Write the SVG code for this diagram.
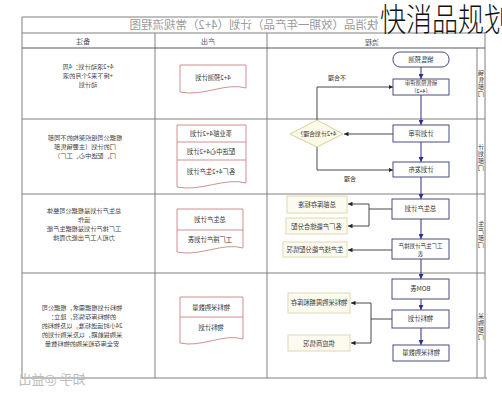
<svg xmlns="http://www.w3.org/2000/svg" width="502" height="400" viewBox="0 0 502 400">
<style>
.tb{fill:none;stroke:#808080;stroke-width:1}
.tk{fill:none;stroke:#5a5a5a;stroke-width:1.2}
.fb{fill:#fff;stroke:#4b4b7d;stroke-width:1}
.sb{fill:#fdfbef;stroke:#e0d7b2;stroke-width:1}
.dg{fill:#fdfbe8;stroke:#d9cf9a;stroke-width:1}
.doc{fill:#fff;stroke:#c98585;stroke-width:0.9}
.t{font-family:"Noto Sans CJK SC","Noto Sans",sans-serif;font-size:6.3px;fill:#333;text-anchor:middle}
.r{font-size:6.2px;fill:#444}
.h{font-size:7px;fill:#555}
.v{font-size:6px;letter-spacing:1px;writing-mode:vertical-rl}
.c1{fill:none;stroke:#30308a;stroke-width:1}
.c2{fill:none;stroke:#333;stroke-width:0.9}
</style>
<defs>
<marker id="an" viewBox="0 0 10 10" refX="10" refY="5" markerWidth="5" markerHeight="5" markerUnits="userSpaceOnUse" orient="auto"><path d="M0,0 L10,5 L0,10 z" fill="#2f2f8a"/></marker>
<marker id="ak" viewBox="0 0 10 10" refX="10" refY="5" markerWidth="4.5" markerHeight="4.5" markerUnits="userSpaceOnUse" orient="auto"><path d="M0,0 L10,5 L0,10 z" fill="#222"/></marker>
</defs>
<rect width="502" height="400" fill="#fff"/>

<g id="table">
<path class="tb" d="M22,17 H485 M22,33 H485 M22,17 V378 M485,17 V378 M22,119 H485 M22,194 H485 M22,273 H485 M22,378 H487 M155,33 V378 M267,33 V378 M477,48 V378"/>
<path class="tk" d="M22,48 H485"/>
<text class="t" transform="scale(-1,1)" x="-254" y="29" style="font-size:11.5px;fill:#9a9a9a">快消品（效期一年产品）计划（4+2）常规流程图</text>
<text class="t h" transform="scale(-1,1)" x="-83" y="44">备注</text>
<text class="t h" transform="scale(-1,1)" x="-208" y="44">产出</text>
<text class="t h" transform="scale(-1,1)" x="-372" y="44.5">流程</text>
</g>

<g id="lanes">
<text class="t v" transform="scale(-1,1)" x="-481" y="84">销售部门</text>
<text class="t v" transform="scale(-1,1)" x="-481" y="158">计划部门</text>
<text class="t v" transform="scale(-1,1)" x="-481" y="235">生产部门</text>
<text class="t v" transform="scale(-1,1)" x="-481" y="327">采购部门</text>
</g>

<g id="remarks" class="t r">
<text transform="scale(-1,1)" x="-88" y="68.7">4+2滚动计划：4周</text>
<text transform="scale(-1,1)" x="-88" y="77.7">+接下来2个月的滚</text>
<text transform="scale(-1,1)" x="-88" y="86.7">动计划</text>
<text transform="scale(-1,1)" x="-85" y="140.2">根据公司组织架构的不同部</text>
<text transform="scale(-1,1)" x="-85" y="149.2">门的计划（主要销售部</text>
<text transform="scale(-1,1)" x="-85" y="158.2">门、配送中心、工厂）</text>
<text transform="scale(-1,1)" x="-84" y="212.7">总生产计划是根据公司整体</text>
<text transform="scale(-1,1)" x="-84" y="221.7">运作</text>
<text transform="scale(-1,1)" x="-84" y="230.7">工厂排产计划是根据生产能</text>
<text transform="scale(-1,1)" x="-84" y="239.7">力和人工产出能力而排</text>
<text transform="scale(-1,1)" x="-82" y="309.7">物料计划根据需求，根据公司</text>
<text transform="scale(-1,1)" x="-82" y="318.7">的物料库存情况，建立：</text>
<text transform="scale(-1,1)" x="-82" y="327.7">24小时运送标准，以及物料的</text>
<text transform="scale(-1,1)" x="-82" y="336.7">采购提前期，以及采购计划的</text>
<text transform="scale(-1,1)" x="-82" y="345.7">安全库存和采购的物料数量</text>
</g>

<g id="out1">
<path class="doc" d="M180,65 H246 V88 C226,82 203,97 180,92 Z"/>
<text class="t" transform="scale(-1,1)" x="-213" y="80">4+2预测计划</text>
</g>
<g id="out2">
<path class="doc" d="M177,125 H246 V183 C225,177 201,192 177,187 Z M177,142 H246 M177,160 H246"/>
<text class="t" transform="scale(-1,1)" x="-211" y="136">事业部4+2计划</text>
<text class="t" transform="scale(-1,1)" x="-211" y="153.5">配送中心4+2计划</text>
<text class="t" transform="scale(-1,1)" x="-211" y="174">各厂4+2生产计划</text>
</g>
<g id="out3">
<path class="doc" d="M177,209 H243 V248 C223,242 200,257 177,252 Z M177,230 H243"/>
<text class="t" transform="scale(-1,1)" x="-210" y="222">总生产计划</text>
<text class="t" transform="scale(-1,1)" x="-210" y="242">工厂排产计划表</text>
</g>
<g id="out4">
<path class="doc" d="M180,297 H243 V339 C224,333 201,348 180,343 Z M180,317 H243"/>
<text class="t" transform="scale(-1,1)" x="-211" y="310">物料采购数量</text>
<text class="t" transform="scale(-1,1)" x="-211" y="330">物料计划</text>
</g>

<g id="connectors">
<path class="c1" marker-end="url(#an)" d="M421,67 V79"/>
<path class="c1" marker-end="url(#an)" d="M421,95 V125"/>
<path class="c1" marker-end="url(#an)" d="M421,142 V162"/>
<path class="c1" marker-end="url(#an)" d="M421,177 V199"/>
<path class="c1" marker-end="url(#an)" d="M421,219 V239"/>
<path class="c1" marker-end="url(#an)" d="M421,259 V279"/>
<path class="c1" marker-end="url(#an)" d="M421,299 V310"/>
<path class="c1" marker-end="url(#an)" d="M421,328 V345"/>
<path class="c2" marker-end="url(#ak)" d="M393,134 H344"/>
<path class="c2" marker-end="url(#ak)" d="M317,120 V87 H393"/>
<path class="c2" marker-end="url(#ak)" d="M317,147 V170 H393"/>
<path class="c2" d="M392,209 H369"/>
<path class="c2" marker-end="url(#ak)" d="M369,209 V204 H348"/>
<path class="c2" marker-end="url(#ak)" d="M369,209 V226 H348"/>
<path class="c2" marker-end="url(#ak)" d="M392,250 H348"/>
<path class="c2" d="M392,319 H371"/>
<path class="c2" marker-end="url(#ak)" d="M371,319 V303 H351"/>
<path class="c2" marker-end="url(#ak)" d="M371,319 V343 H351"/>
<text class="t" transform="scale(-1,1)" x="-337" y="80" style="font-size:6px">不合理</text>
<text class="t" transform="scale(-1,1)" x="-350" y="181" style="font-size:6px">合理</text>
</g>

<g id="n1"><rect class="fb" x="393" y="52" width="56" height="15" rx="7"/><text class="t" transform="scale(-1,1)" x="-421" y="62">销售预测</text></g>
<g id="n2"><rect class="fb" x="393" y="79" width="56" height="16"/><text class="t" transform="scale(-1,1)" x="-421" y="84.9" style="font-size:5.4px">销售预测评审</text><text class="t" transform="scale(-1,1)" x="-421" y="92.9" style="font-size:5.4px">（4+2）</text></g>
<g id="n3"><rect class="fb" x="393" y="125" width="56" height="17"/><text class="t" transform="scale(-1,1)" x="-421" y="136">计划评审</text></g>
<g id="d1"><polygon class="dg" points="317,120 343,134 317,147 290,134"/><text class="t" transform="scale(-1,1)" x="-317" y="136" style="font-size:5.8px">4+2计划合理？</text></g>
<g id="n4"><rect class="fb" x="393" y="162" width="56" height="15"/><text class="t" transform="scale(-1,1)" x="-421" y="172">计划发布</text></g>
<g id="n5"><rect class="fb" x="392" y="199" width="57" height="20"/><text class="t" transform="scale(-1,1)" x="-420.5" y="211">总生产计划</text></g>
<g id="n6"><rect class="fb" x="392" y="239" width="57" height="20"/><text class="t" transform="scale(-1,1)" x="-420.5" y="248.4" style="font-size:5.5px">工厂生产计划排产</text><text class="t" transform="scale(-1,1)" x="-420.5" y="256.4" style="font-size:5.5px">表</text></g>
<g id="n7"><rect class="fb" x="392" y="279" width="57" height="20"/><text class="t" transform="scale(-1,1)" x="-420.5" y="291">BOM表</text></g>
<g id="n8"><rect class="fb" x="392" y="310" width="57" height="18"/><text class="t" transform="scale(-1,1)" x="-420.5" y="321">物料计划</text></g>
<g id="n9"><rect class="fb" x="393" y="345" width="56" height="16"/><text class="t" transform="scale(-1,1)" x="-421" y="355">物料采购数量</text></g>

<g id="s1"><rect class="sb" x="287" y="196" width="60" height="17"/><text class="t" transform="scale(-1,1)" x="-317" y="207">总部库存标准</text></g>
<g id="s2"><rect class="sb" x="286" y="218" width="61" height="16"/><text class="t" transform="scale(-1,1)" x="-316.5" y="228.5">各厂产能综合分配</text></g>
<g id="s3"><rect class="sb" x="283" y="242" width="64" height="15"/><text class="t" transform="scale(-1,1)" x="-315" y="252">生产线产能分配情况</text></g>
<g id="s4"><rect class="sb" x="288" y="293" width="62" height="20"/><text class="t" transform="scale(-1,1)" x="-319" y="305">物料采购周期和库存</text></g>
<g id="s5"><rect class="sb" x="288" y="335" width="62" height="16"/><text class="t" transform="scale(-1,1)" x="-319" y="345.5">供应商情况</text></g>

<g id="watermark"><text class="t" transform="scale(-1,1)" x="-52" y="384" style="font-size:13px;fill:#bdbdbd">知乎 @益出</text></g>

<g id="bigtitle">
<rect x="378" y="0" width="124" height="32" fill="#fff"/>
<text transform="translate(380,31) scale(1,1.22)" x="0" y="0" style="font-family:'Noto Sans CJK SC',sans-serif;font-size:26px;font-weight:300;fill:#111">快消品规划</text>
</g>
</svg>
